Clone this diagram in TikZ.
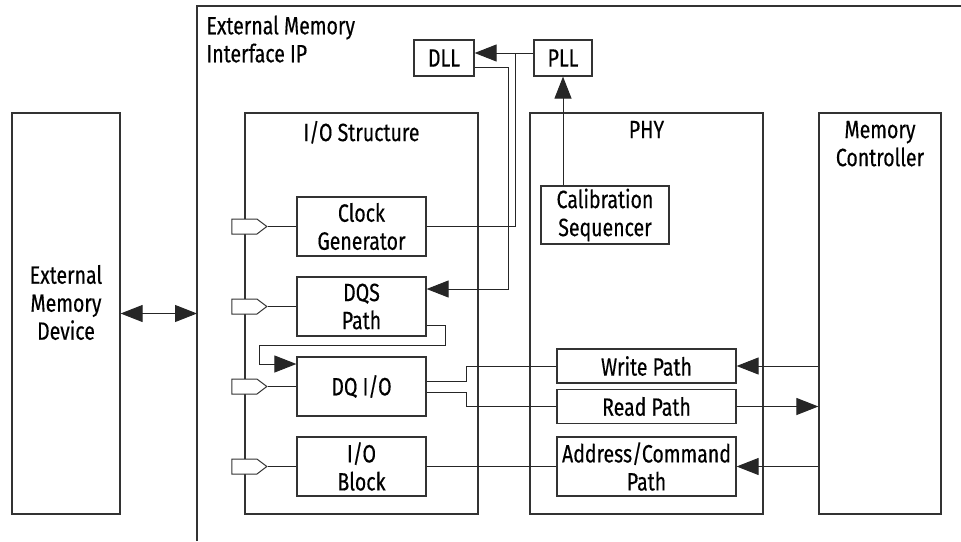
\documentclass[tikz,border=0pt]{standalone}
\usepackage{fontspec}
\setmainfont{Fira Sans}[FakeStretch=0.78, FakeBold=0.4]
\usepackage{tikz}
\usetikzlibrary{arrows.meta,shapes.symbols}

\tikzset{
  box/.style={draw=black!80, line width=1.2pt, align=center, inner sep=0pt},
  blk/.style={box, minimum width=129pt, minimum height=59pt},
  lane/.style={box, minimum height=401pt},
  pathbox/.style={box, minimum width=179pt, minimum height=34pt},
  pin/.style={signal, signal to=east, signal pointer angle=74, draw=black!80, fill=white,
    line width=1pt, minimum width=35pt, minimum height=15pt, inner sep=0pt},
  wire/.style={draw=black!85, line width=1pt},
  arr/.style={wire, -{Triangle[length=22pt,width=17pt]}},
  top/.style={label={[anchor=north, align=center, yshift=-5pt]north:#1}}
}

\begin{document}
\begin{tikzpicture}[x=1pt, y=-1pt, font=\fontsize{25}{28}\selectfont]
  \useasboundingbox (0,0) rectangle (961,541);
  \draw[black!80, line width=1.2pt] (197,541) -- (197,6) -- (961,6);
  \node[anchor=north west, align=left] (ipname) at (203,12) {External Memory\\Interface IP};

  \node[lane, minimum width=108pt,
    label={[align=center, yshift=11pt]center:External\\Memory\\Device}] (ext) at (66,313.5) {};
  \node[lane, minimum width=233pt, top=I/O Structure] (ios) at (361.5,313.5) {};
  \node[lane, minimum width=233pt, top=PHY] (phy) at (646.5,313.5) {};
  \node[lane, minimum width=122pt, top=Memory\\Controller] (mc) at (880,313.5) {};
  \coordinate (ipl) at (197,313.5);

  \node[box, minimum width=60pt, minimum height=36pt] (dll) at (444,58) {DLL};
  \node[box, minimum width=58pt, minimum height=36pt] (pll) at (563,58) {PLL};
  \node[blk, minimum width=128pt, minimum height=58pt] (cal) at (605,215) {Calibration\\Sequencer};

  \node[blk] (clk) at (361.5,226.5) {Clock\\Generator};
  \node[blk] (dqs) at (361.5,306.5) {DQS\\Path};
  \node[blk] (dq)  at (361.5,386.5) {DQ I/O};
  \node[blk] (iob) at (361.5,466.5) {I/O\\Block};

  \node[pathbox] (wr) at (646.5,366) {Write Path};
  \node[pathbox] (rd) at (646.5,406.5) {Read Path};
  \node[blk, minimum width=179pt] (adr) at (646.5,466.5) {Address/Command\\Path};

  \foreach \n in {clk,dqs,dq,iob} {
    \node[pin] (pin\n) at (ios.west |- \n) {};
    \draw[wire] (pin\n.east) -- (\n.west);
  }

  \draw[arr, {Triangle[length=22pt,width=17pt]}-{Triangle[length=22pt,width=17pt]}] (ext.east |- ipl) -- (ipl);

  \coordinate (tap) at ([xshift=-18pt, yshift=5pt]pll.west);
  \draw[arr] ([yshift=5pt]pll.west) -- ([yshift=5pt]dll.east);
  \draw[wire] (clk.east) -| (tap);
  \draw[arr] ([yshift=-9pt]dll.east) -| ([xshift=82pt, yshift=17.5pt]dqs.east) -- ([yshift=17.5pt]dqs.east);
  \draw[arr] (pll.south |- cal.north) -- (pll.south);
  \draw[arr] ([yshift=-18.5pt]dqs.east) -| ++(19,20) -| ([xshift=-37pt, yshift=22.5pt]dq.west) -- ([yshift=22.5pt]dq.west);

  \draw[wire] ([yshift=5.5pt]dq.east) -- ++(40,0) |- (wr.west);
  \draw[wire] ([yshift=-5.5pt]dq.east) -- ++(40,0) |- (rd.west);
  \draw[wire] (iob.east) -- (adr.west);

  \draw[arr] (mc.west |- wr.east) -- (wr.east);
  \draw[arr] (rd.east) -- (mc.west |- rd.east);
  \draw[arr] (mc.west |- adr.east) -- (adr.east);
\end{tikzpicture}
\end{document}
